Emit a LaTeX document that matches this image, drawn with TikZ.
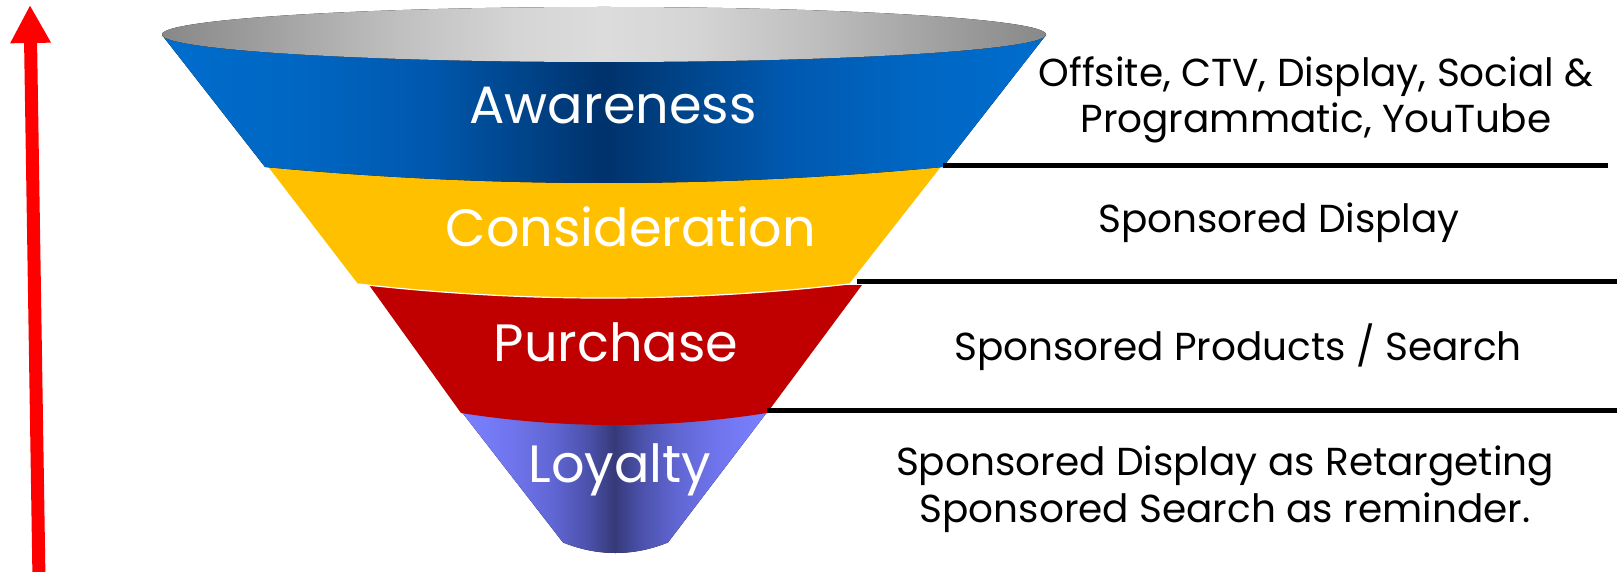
\documentclass[tikz,border=0pt]{standalone}
\usepackage{fontspec}
\setmainfont{Poppins}
\usetikzlibrary{arrows.meta}

% band colours
\definecolor{awEdge}{HTML}{006DCD}
\definecolor{awA}{HTML}{0066C2}
\definecolor{awB}{HTML}{0058AE}
\definecolor{awC}{HTML}{004286}
\definecolor{awDark}{HTML}{00326C}
\definecolor{consYellow}{HTML}{FFC000}
\definecolor{purchRed}{HTML}{C00000}
\definecolor{loEdge}{HTML}{7B80FF}
\definecolor{loA}{HTML}{7075EE}
\definecolor{loB}{HTML}{6066D2}
\definecolor{loC}{HTML}{4A50A8}
\definecolor{loDark}{HTML}{363A78}
\definecolor{rimEdge}{HTML}{888888}
\definecolor{rimA}{HTML}{9C9C9C}
\definecolor{rimB}{HTML}{BEBEBE}
\definecolor{rimC}{HTML}{D5D5D5}
\definecolor{rimLight}{HTML}{DCDCDC}
\definecolor{arrowRed}{HTML}{FF0000}

% horizontal shadings, dark in the middle of each band
\pgfdeclarehorizontalshading{awshade}{100bp}{color(0bp)=(awEdge); color(25bp)=(awEdge);
  color(33bp)=(awA); color(40bp)=(awB); color(46bp)=(awC); color(50bp)=(awDark);
  color(54bp)=(awC); color(60bp)=(awB); color(67bp)=(awA); color(75bp)=(awEdge); color(100bp)=(awEdge)}
\pgfdeclarehorizontalshading{loshade}{100bp}{color(0bp)=(loEdge); color(25bp)=(loEdge);
  color(33bp)=(loA); color(40bp)=(loB); color(46bp)=(loC); color(50bp)=(loDark);
  color(54bp)=(loC); color(60bp)=(loB); color(67bp)=(loA); color(75bp)=(loEdge); color(100bp)=(loEdge)}
\pgfdeclarehorizontalshading{rimshade}{100bp}{color(0bp)=(rimEdge); color(25bp)=(rimEdge);
  color(30bp)=(rimA); color(38bp)=(rimB); color(45bp)=(rimC); color(50bp)=(rimLight);
  color(55bp)=(rimC); color(62bp)=(rimB); color(70bp)=(rimA); color(75bp)=(rimEdge); color(100bp)=(rimEdge)}

\tikzset{
  bandlabel/.style={text=white, font=\fontsize{52.5}{60}\selectfont, anchor=base, inner sep=0pt},
  sidelabel/.style={text=black, font=\fontsize{39}{46.5}\selectfont, anchor=base, inner sep=0pt},
  divider/.style={line width=5pt, black},
  uparrow/.style={draw=arrowRed, line width=13pt, -{Triangle[width=38pt,length=38pt]}}
}

\begin{document}
\begin{tikzpicture}[x=1pt,y=-1pt]
\useasboundingbox (0,0) rectangle (1617,572);

% funnel bands, drawn from the bottom up so each band overlaps the next
\fill[shading=loshade] (461,411) -- (563,542.5)
  .. controls (598,556.5) and (633,556.5) .. (668,542.5) -- (768,411) -- cycle;
\fill[purchRed] (369,285) -- (461,413)
  .. controls (563,429) and (665,429) .. (767,413) -- (862,285) -- cycle;
\fill[consYellow] (266,164) -- (358,284)
  .. controls (521.7,302.7) and (685.3,302.7) .. (849,284) -- (943,164) -- cycle;
\draw[white, line width=1.2pt] (358,284) .. controls (521.7,302.7) and (685.3,302.7) .. (849,284);
\fill[shading=awshade] (162,35) -- (265,167)
  .. controls (491,188.3) and (717,188.3) .. (943,167) -- (1046,35) -- cycle;
% open rim of the funnel
\fill[shading=rimshade] (604,34.5) ellipse [x radius=442, y radius=27.5];

% stage names
\node[bandlabel] (awlabel) at (613,124) {Awareness};
\node[bandlabel] (conslabel) at (631,247) {Consideration};
\node[bandlabel] (purchlabel) at (616,361) {Purchase};
\node[bandlabel] (lolabel) at (620,482) {Loyalty};

% channel descriptions (two-line nodes sit on the baseline of their last line)
\node[sidelabel, align=center] (awtext) at (1316,133) {Offsite, CTV, Display, Social \&\\Programmatic, YouTube};
\node[sidelabel] (constext) at (1279,233) {Sponsored Display};
\node[sidelabel] (purchtext) at (1238,360) {Sponsored Products / Search};
\node[sidelabel, align=center] (lotext) at (1225,522) {Sponsored Display as Retargeting\\Sponsored Search as reminder.};

% dividers running from the band corners
\coordinate (awcorner) at (943,166);
\coordinate (awend) at (1608,166);
\coordinate (conscorner) at (857,281);
\coordinate (consend) at (1617,281);
\coordinate (purchcorner) at (767,410);
\coordinate (purchend) at (1617,410);
\draw[divider] (awcorner) -- (awend);
\draw[divider] (conscorner) -- (consend);
\draw[divider] (purchcorner) -- (purchend);

% upward arrow on the left
\coordinate (arrowfoot) at (39,580);
\coordinate (arrowtip) at (30,5);
\draw[uparrow] (arrowfoot) -- (arrowtip);
\end{tikzpicture}
\end{document}
